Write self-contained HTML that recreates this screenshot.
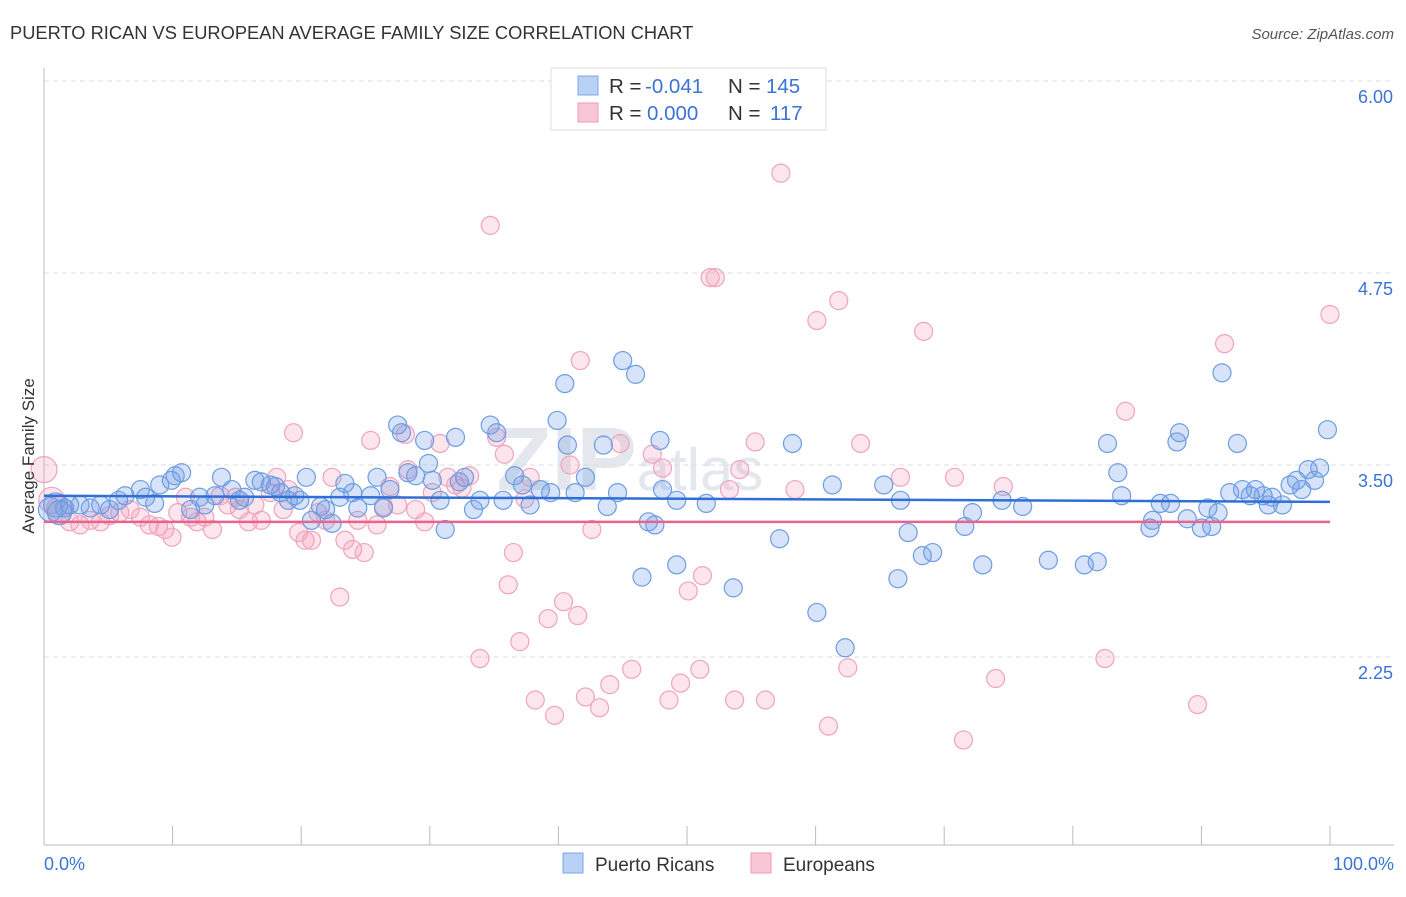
<!DOCTYPE html>
<html><head><meta charset="utf-8"><style>
body{margin:0;background:#fff;font-family:"Liberation Sans",sans-serif;}
svg text{font-family:"Liberation Sans",sans-serif;}
</style></head><body>
<svg id="chart" width="1406" height="892">
<text x="10" y="39" font-size="18.3" fill="#333">PUERTO RICAN VS EUROPEAN AVERAGE FAMILY SIZE CORRELATION CHART</text>
<text x="1394" y="39" font-size="15" fill="#555" font-style="italic" text-anchor="end">Source: ZipAtlas.com</text>
<text x="630" y="490" font-size="90" fill="#e4e8ee" font-weight="bold" text-anchor="middle">ZIP<tspan font-size="60" font-weight="normal">atlas</tspan></text>
<g id="grid"></g>
<g id="axes"></g>
<g id="pts"></g>
<g id="trend"></g>
<text transform="translate(34,456) rotate(-90)" font-size="17" fill="#333" text-anchor="middle">Average Family Size</text>
<text x="44" y="870" font-size="18" fill="#3a74d4">0.0%</text>
<text x="1394" y="870" font-size="18" fill="#3a74d4" text-anchor="end">100.0%</text>
<g>
<rect x="551" y="68" width="275" height="62" fill="#fff" stroke="#ddd"/>
<rect x="578" y="76" width="20" height="19" fill="#b9d1f4" stroke="#7ea6e4"/>
<rect x="578" y="103" width="20" height="19" fill="#f9c6d5" stroke="#ef9ab5"/>
<text x="609" y="93" font-size="20.5" fill="#333">R = <tspan fill="#3a74d4" x="645">-0.041</tspan><tspan x="728">N = </tspan><tspan fill="#3a74d4" x="766">145</tspan></text>
<text x="609" y="120" font-size="20.5" fill="#333">R = <tspan fill="#3a74d4" x="647">0.000</tspan><tspan x="728">N = </tspan><tspan fill="#3a74d4" x="770">117</tspan></text>
</g>
<g>
<rect x="563" y="853" width="20" height="20" fill="#b9d1f4" stroke="#7ea6e4"/>
<text x="595" y="871" font-size="19" fill="#333">Puerto Ricans</text>
<rect x="751" y="853" width="20" height="20" fill="#f9c6d5" stroke="#ef9ab5"/>
<text x="783" y="871" font-size="19" fill="#333">Europeans</text>
</g>
</svg>
<script>
const yTicks=[6.00,4.75,3.50,2.25];
const yTickLabels=["6.00","4.75","3.50","2.25"];
const blueX=[0.5,0.9,1.2,1.6,2.0,2.8,3.6,4.4,5.1,5.8,6.3,7.5,7.9,8.6,9.0,9.9,10.2,10.7,11.4,12.1,12.5,13.3,13.8,14.6,15.2,15.6,16.4,16.9,17.6,18.0,18.4,19.0,19.5,19.9,20.4,20.8,21.5,21.9,22.4,23.0,23.4,24.0,24.4,25.4,25.9,26.4,26.9,27.5,27.8,28.3,28.9,29.6,29.9,30.2,30.8,31.2,32.0,32.3,32.7,33.4,33.9,34.7,35.2,35.7,36.6,37.2,37.8,38.6,39.4,39.9,40.5,40.7,41.3,42.1,43.5,43.8,44.6,45.0,46.0,46.5,47.0,47.5,47.9,48.1,49.2,49.2,51.5,53.6,57.2,58.2,60.1,61.3,62.3,65.3,66.4,66.6,67.2,68.3,69.1,71.6,72.2,73.0,74.5,76.1,78.1,80.9,81.9,82.7,83.5,83.8,86.0,86.2,86.8,87.6,88.1,88.3,88.9,90.0,90.5,90.8,91.3,91.6,92.2,92.8,93.2,93.8,94.2,94.8,95.2,95.5,96.3,96.9,97.4,97.8,98.3,98.8,99.2,99.8];
const blueY=[3.21,3.24,3.19,3.22,3.24,3.24,3.22,3.24,3.21,3.27,3.30,3.34,3.29,3.25,3.37,3.40,3.43,3.45,3.21,3.29,3.24,3.30,3.42,3.34,3.27,3.29,3.40,3.39,3.37,3.36,3.32,3.27,3.30,3.27,3.42,3.14,3.23,3.21,3.12,3.29,3.38,3.32,3.22,3.30,3.42,3.22,3.34,3.76,3.71,3.45,3.43,3.66,3.51,3.40,3.27,3.08,3.68,3.39,3.42,3.21,3.27,3.76,3.71,3.27,3.43,3.37,3.24,3.34,3.32,3.79,4.03,3.63,3.32,3.42,3.63,3.23,3.32,4.18,4.09,2.77,3.13,3.11,3.66,3.34,3.27,2.85,3.25,2.70,3.02,3.64,2.54,3.37,2.31,3.37,2.76,3.27,3.06,2.91,2.93,3.10,3.19,2.85,3.27,3.23,2.88,2.85,2.87,3.64,3.45,3.30,3.09,3.14,3.25,3.25,3.65,3.71,3.15,3.09,3.22,3.10,3.19,4.10,3.32,3.64,3.34,3.30,3.34,3.30,3.24,3.29,3.24,3.37,3.40,3.34,3.47,3.40,3.48,3.73];
const pinkX=[0,0.6,1.2,2.0,2.8,3.6,4.4,5.1,5.9,6.7,7.5,8.2,8.9,9.4,9.95,10.4,11.0,11.4,11.9,12.5,13.1,13.7,14.3,14.9,15.2,15.9,16.4,16.9,17.6,18.1,18.6,19.0,19.4,19.8,20.3,20.8,21.3,21.9,22.4,23.0,23.4,24.0,24.4,24.9,25.4,25.9,26.4,26.9,27.5,28.1,28.3,28.9,29.6,30.2,30.8,31.4,32.0,32.5,33.1,33.9,34.7,35.2,35.8,36.1,36.5,37.0,37.4,37.8,38.2,39.2,39.7,40.4,40.9,41.5,41.7,42.1,42.6,43.2,44.0,44.8,45.7,47.3,48.1,48.6,49.5,50.1,51.0,51.2,51.8,52.2,53.3,53.7,54.1,55.3,56.1,57.3,58.4,60.1,61.0,61.8,62.5,63.5,66.6,68.4,70.8,71.5,74.0,74.6,82.5,84.1,89.7,91.8,100];
const pinkY=[3.47,3.27,3.21,3.13,3.11,3.14,3.13,3.17,3.19,3.21,3.16,3.11,3.10,3.08,3.03,3.19,3.29,3.16,3.13,3.16,3.08,3.30,3.24,3.29,3.21,3.13,3.24,3.14,3.32,3.42,3.21,3.34,3.71,3.06,3.01,3.01,3.19,3.14,3.42,2.64,3.01,2.95,3.14,2.93,3.66,3.11,3.23,3.36,3.24,3.70,3.47,3.21,3.13,3.32,3.64,3.42,3.37,3.35,3.43,2.24,5.06,3.68,3.57,2.72,2.93,2.35,3.28,3.42,1.97,2.50,1.87,2.61,3.50,2.52,4.18,1.99,3.08,1.92,2.07,3.64,2.17,3.57,3.48,1.97,2.08,2.68,2.17,2.78,4.72,4.72,3.34,1.97,3.47,3.65,1.97,5.40,3.34,4.44,1.80,4.57,2.18,3.64,3.42,4.37,3.42,1.71,2.11,3.36,2.24,3.85,1.94,4.29,4.48];
const blueTrend=[3.30,3.26];
const pinkTrend=[3.13,3.13];
const NS="http://www.w3.org/2000/svg";
const X0=44,X1=1330,YT=81,PXU=153.6;
function sx(p){return X0+(X1-X0)*p/100;}
function sy(v){return YT+(6-v)*PXU;}
function mk(tag,attrs,parent){const e=document.createElementNS(NS,tag);for(const k in attrs)e.setAttribute(k,attrs[k]);parent.appendChild(e);return e;}
const grid=document.getElementById('grid'),axes=document.getElementById('axes'),pts=document.getElementById('pts'),trend=document.getElementById('trend');
yTicks.forEach((t,i)=>{
 const l=mk('line',{x1:X0,x2:1394,y1:sy(t),y2:sy(t),stroke:'#ddd','stroke-dasharray':'5,4'},grid);
 
 
 const tx=mk('text',{x:1393,y:sy(t)+22,'font-size':18,fill:'#3a74d4','text-anchor':'end'},grid);
 tx.textContent=yTickLabels[i];
 
 
});
const la=mk('line',{x1:X0,x2:X0,y1:68,y2:845,stroke:'#bbb'},axes);


const lb=mk('line',{x1:X0,x2:1394,y1:845,y2:845,stroke:'#bbb'},axes);


for(let i=0;i<=10;i++){
 const t=mk('line',{x1:sx(i*10),x2:sx(i*10),y1:826,y2:845,stroke:'#bbb'},axes);
 
 
}
pinkX.forEach((x,i)=>{
 const c=mk('circle',{cx:sx(x),cy:sy(pinkY[i]),r:i<3?13:9,fill:'rgba(244,160,188,0.28)',stroke:'#f0a3bc','stroke-width':1.2},pts);
 
 
});
blueX.forEach((x,i)=>{
 const c=mk('circle',{cx:sx(x),cy:sy(blueY[i]),r:i<3?12:9,fill:'rgba(110,155,230,0.28)',stroke:'#6d9de2','stroke-width':1.2},pts);
 
 
});
const tb=mk('line',{x1:sx(0),x2:sx(100),y1:sy(blueTrend[0]),y2:sy(blueTrend[1]),stroke:'#2f6fd6','stroke-width':2.5},trend);


const tp=mk('line',{x1:sx(0),x2:sx(100),y1:sy(pinkTrend[0]),y2:sy(pinkTrend[1]),stroke:'#e8648f','stroke-width':2.5},trend);


</script>
</body></html>
